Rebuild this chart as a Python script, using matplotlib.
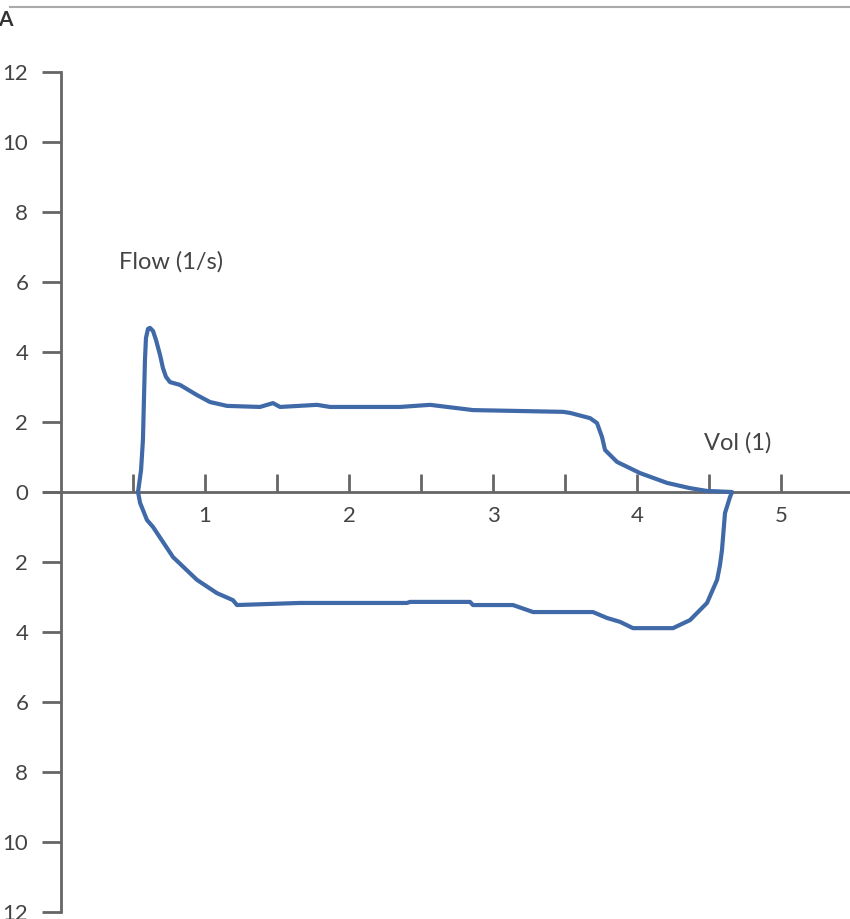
import matplotlib
matplotlib.use("Agg")
import matplotlib.pyplot as plt
from matplotlib.lines import Line2D

plt.rcParams['font.family'] = ['Lato', 'DejaVu Sans']

# expiration (upper) limb, volume in l, flow in l/s
vol_exp = [0.535, 0.556, 0.569, 0.576, 0.583, 0.590, 0.604, 0.618, 0.639, 0.660,
           0.688, 0.708, 0.729, 0.757, 0.826, 0.944, 1.035, 1.153, 1.382, 1.472,
           1.521, 1.778, 1.868, 2.354, 2.563, 2.861, 3.486, 3.535, 3.674, 3.722,
           3.757, 3.778, 3.861, 4.021, 4.208, 4.368, 4.486, 4.660]
flow_exp = [0.0, 0.63, 1.49, 2.63, 3.77, 4.40, 4.66, 4.69, 4.60, 4.34,
            3.91, 3.54, 3.29, 3.14, 3.06, 2.77, 2.57, 2.46, 2.43, 2.54,
            2.43, 2.49, 2.43, 2.43, 2.49, 2.34, 2.29, 2.26, 2.11, 1.97,
            1.57, 1.20, 0.86, 0.54, 0.26, 0.11, 0.03, 0.0]

# inspiration (lower) limb, going back from full volume
vol_insp = [4.660, 4.646, 4.611, 4.590, 4.576, 4.556, 4.486, 4.368, 4.250, 3.972,
            3.882, 3.792, 3.694, 3.278, 3.139, 2.861, 2.840, 2.424, 2.403, 1.660,
            1.222, 1.194, 1.083, 0.944, 0.778, 0.639, 0.597, 0.549, 0.535]
flow_insp = [0.0, -0.14, -0.60, -1.66, -2.09, -2.51, -3.17, -3.66, -3.89, -3.89,
             -3.71, -3.60, -3.43, -3.43, -3.23, -3.23, -3.14, -3.14, -3.17, -3.17,
             -3.23, -3.09, -2.89, -2.51, -1.86, -1.00, -0.80, -0.31, 0.0]

y_ticks = [-12, -10, -8, -6, -4, -2, 0, 2, 4, 6, 8, 10, 12]
y_labels = [str(abs(v)) for v in y_ticks]
x_ticks = [1, 2, 3, 4, 5]
x_minor = [0.5, 1.5, 2.5, 3.5, 4.5]

axis_col = '#666666'
text_col = '#444444'

fig = plt.figure(figsize=(8.5, 9.19), dpi=100)
ax = fig.add_axes([0, 0, 1, 1])
ax.set_xlim(-0.4236, 5.479)
ax.set_ylim(-12.2, 14.057)

ax.plot(vol_exp + vol_insp, flow_exp + flow_insp, color='#4069a8', lw=3.0,
        solid_joinstyle='round', solid_capstyle='round', zorder=3)

for s in ['top', 'right']:
    ax.spines[s].set_visible(False)
ax.spines['left'].set_position(('data', 0))
ax.spines['left'].set_bounds(-12, 12)
ax.spines['bottom'].set_position(('data', 0))
ax.spines['bottom'].set_bounds(-0.118, 5.479)
for s in ['left', 'bottom']:
    ax.spines[s].set_color(axis_col)
    ax.spines[s].set_linewidth(2.0)

ax.set_yticks(y_ticks)
ax.set_yticklabels(y_labels)
ax.set_xticks(x_ticks)
ax.set_xticks(x_minor, minor=True)
ax.tick_params(axis='y', direction='out', length=13.5, width=2, color=axis_col,
               pad=10, labelsize=16, labelcolor=text_col)
ax.tick_params(axis='x', which='both', direction='in', length=13, width=2,
               color=axis_col, pad=10, labelsize=16, labelcolor=text_col)

ax.text(0.405, 6.57, 'Flow (1/s)', fontsize=17, color=text_col, va='center')
ax.text(4.465, 1.4, 'Vol (1)', fontsize=17, color=text_col, va='center')

# panel frame line and letter at top left
fig.add_artist(Line2D([10 / 850, 1], [1 - 7 / 919, 1 - 7 / 919], color='#aaaaaa', lw=1.5))
fig.text(5 / 850, 1 - 20 / 919, 'A', fontsize=15, fontweight='bold', color='#333333',
         ha='center', va='center')

fig.savefig('out.png', dpi=100)
